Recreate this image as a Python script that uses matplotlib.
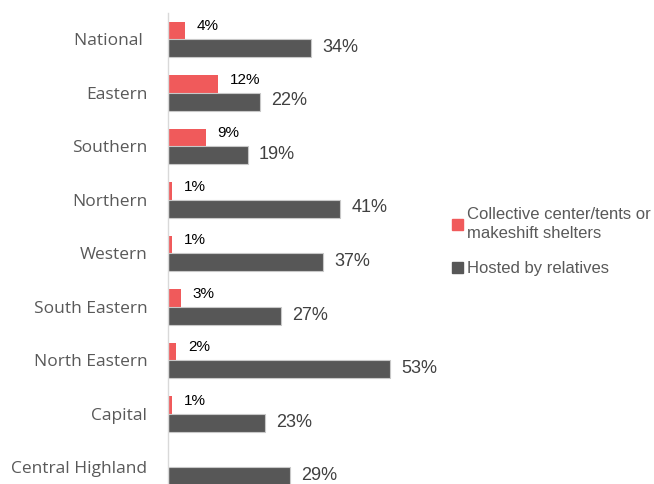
import numpy as np
import matplotlib.pyplot as plt
from matplotlib.patches import Patch

regions = ["National ", "Eastern", "Southern", "Northern", "Western",
           "South Eastern", "North Eastern", "Capital", "Central Highland"]
collective = [4, 12, 9, 1, 1, 3, 2, 1, None]
hosted = [34, 22, 19, 41, 37, 27, 53, 23, 29]

red = "#F05A5B"
dark = "#575757"

fig = plt.figure(figsize=(6.54, 4.84), dpi=100)
# axes run a little past the bottom edge, so the last row is cut off
ax = fig.add_axes([0.257, -0.021, 0.385, 0.995])

y = np.arange(len(regions))
h = 0.33
coll_vals = [v if v is not None else 0 for v in collective]

ax.barh(y - h / 2, coll_vals, height=h, color=red, linewidth=0)
ax.barh(y + h / 2, hosted, height=h, color=dark,
        edgecolor="#c8c8c8", linewidth=0.8)

# value labels
for yi, v in zip(y, collective):
    if v is None:
        continue
    ax.annotate(f"{v}%", (v, yi - h / 2), xytext=(8.5, 3),
                textcoords="offset points", va="center", ha="left",
                fontsize=11, color="black", family="Liberation Sans")
for yi, v in zip(y, hosted):
    ax.annotate(f"{v}%", (v, yi + h / 2), xytext=(8, 0.5),
                textcoords="offset points", va="center", ha="left",
                fontsize=13, color="#404040", family="Liberation Sans")

ax.set_xlim(0, 60)
ax.set_ylim(len(regions) - 0.5, -0.5)
ax.set_yticks(y)
ax.set_yticklabels(regions, fontsize=12.5, color="#595959", family="Open Sans")
ax.tick_params(axis="y", length=0, pad=15)
ax.set_xticks([])

for s in ["top", "right", "bottom"]:
    ax.spines[s].set_visible(False)
ax.spines["left"].set_color("#d9d9d9")
ax.spines["left"].set_linewidth(1)

handles = [Patch(color=red, label="Collective center/tents or\nmakeshift shelters"),
           Patch(color=dark, label="Hosted by relatives")]
leg = fig.legend(handles=handles, loc="upper left", bbox_to_anchor=(0.668, 0.604),
                 frameon=False, handlelength=0.65, handleheight=0.65,
                 handletextpad=0.25, labelspacing=1.2,
                 prop={"family": "Liberation Sans", "size": 12},
                 labelcolor="#595959")
for t in leg.get_texts():
    t.set_linespacing(1.4)

fig.savefig("out.png", dpi=100)
